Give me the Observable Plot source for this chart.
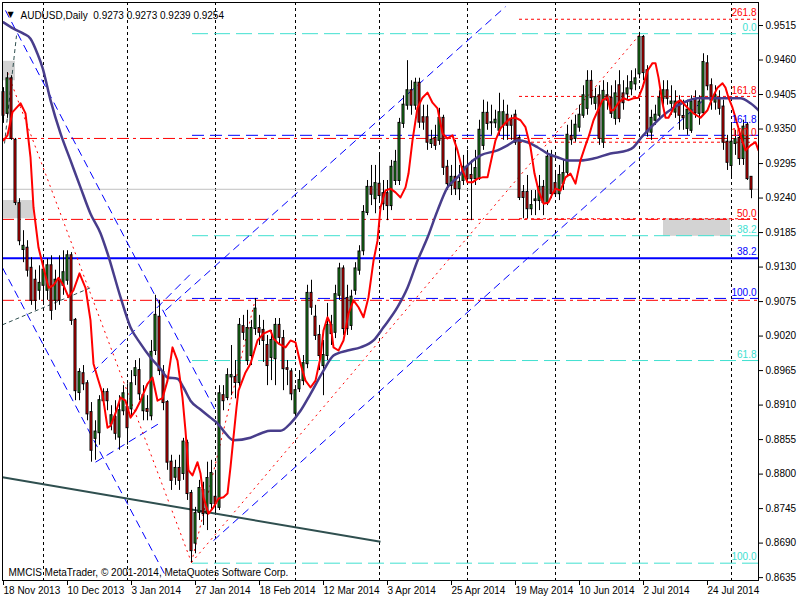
<!DOCTYPE html>
<html><head><meta charset="utf-8">
<script src="https://cdn.jsdelivr.net/npm/d3@7"></script>
<script src="https://cdn.jsdelivr.net/npm/@observablehq/plot@0.6"></script>
<style>
html,body{margin:0;padding:0;background:#fff;}
#chart{width:800px;height:600px;overflow:hidden;}
</style></head><body><div id="chart"></div>
<script>
// ---------- DATA ----------
const open = [.9408,.9375,.9430,.9332,.9231,.9158,.9160,.9128,.9109,.9093,.9101,.9093,.9132,.9077,.9109,.9101,.9109,.9148,.9045,.8930,
.8960,.8944,.8898,.8857,.8866,.8917,.8930,.8880,.8890,.8859,.8901,.8906,.8904,.8957,.8965,.8901,.8903,.8893,.8997,.9050,
.8962,.8914,.8819,.8795,.8809,.8801,.8849,.8769,.8690,.8739,.8774,.8737,.8753,.8763,.8747,.8925,.8922,.8955,.8954,.8946,
.9035,.8981,.8989,.9032,.9032,.9029,.9005,.8986,.8984,.9037,.9016,.8968,.8963,.8897,.8936,.8949,.8976,.9088,.9050,.9021,
.8973,.8989,.9037,.9026,.9085,.9127,.9080,.9037,.9093,.9125,.9156,.9217,.9257,.9239,.9262,.9247,.9247,.9228,.9268,.9268,
.9359,.9388,.9411,.9388,.9423,.9368,.9368,.9327,.9335,.9332,.9367,.9289,.9260,.9273,.9255,.9268,.9289,.9276,.9271,.9271,
.9324,.9375,.9360,.9360,.9348,.9356,.9372,.9364,.9372,.9335,.9249,.9249,.9223,.9236,.9236,.9257,.9233,.9305,.9263,.9247,
.9263,.9281,.9338,.9335,.9353,.9372,.9383,.9426,.9391,.9403,.9329,.9403,.9399,.9367,.9419,.9406,.9406,.9414,.9422,.9438,
.9496,.9443,.9345,.9364,.9372,.9399,.9411,.9391,.9377,.9393,.9370,.9351,.9348,.9396,.9375,.9376,.9454,.9419,.9393,.9399,
.9385,.9329,.9292,.9327,.9335,.9303,.9356,.9273];
const high = [.9416,.9440,.9435,.9335,.9239,.9188,.9172,.9145,.9125,.9132,.9140,.9143,.9148,.9125,.9148,.9156,.9156,.9153,.9048,.8968,
.8973,.8949,.8914,.8885,.8925,.8936,.8936,.8909,.8917,.8925,.8941,.8944,.8965,.8981,.8984,.8941,.8925,.9013,.9085,.9077,
.8973,.8917,.8830,.8822,.8830,.8857,.8854,.8774,.8747,.8790,.8787,.8819,.8822,.8806,.8941,.8941,.8968,.9005,.8981,.9048,
.9053,.9061,.9045,.9080,.9053,.9045,.9021,.9029,.9048,.9048,.9029,.8981,.8968,.8941,.8965,.8989,.9101,.9109,.9069,.9037,
.9013,.9072,.9053,.9101,.9136,.9132,.9101,.9093,.9137,.9164,.9228,.9268,.9292,.9292,.9308,.9268,.9268,.9300,.9316,.9367,
.9403,.9459,.9427,.9431,.9431,.9388,.9388,.9348,.9356,.9383,.9372,.9300,.9292,.9332,.9292,.9308,.9316,.9300,.9316,.9364,
.9396,.9393,.9388,.9380,.9407,.9396,.9388,.9372,.9380,.9340,.9260,.9276,.9252,.9252,.9276,.9268,.9316,.9316,.9284,.9292,
.9300,.9356,.9364,.9372,.9388,.9419,.9443,.9443,.9415,.9419,.9427,.9424,.9419,.9427,.9443,.9427,.9435,.9443,.9446,.9504,
.9499,.9451,.9380,.9388,.9411,.9427,.9427,.9419,.9411,.9403,.9396,.9396,.9403,.9411,.9403,.9470,.9467,.9430,.9419,.9411,
.9396,.9340,.9356,.9348,.9348,.9364,.9360,.9273];
const low = [.9359,.9367,.9332,.9228,.9164,.9137,.9114,.9069,.9061,.9077,.9069,.9077,.9045,.9061,.9069,.9085,.9101,.9037,.8917,.8917,
.8933,.8885,.8819,.8822,.8846,.8909,.8901,.8869,.8854,.8838,.8893,.8846,.8893,.8941,.8917,.8885,.8885,.8885,.8989,.8957,
.8901,.8806,.8774,.8782,.8774,.8790,.8758,.8659,.8673,.8726,.8718,.8710,.8742,.8737,.8742,.8901,.8917,.8925,.8920,.8936,
.9013,.8973,.8973,.9021,.9005,.8978,.8941,.8949,.8941,.9005,.8933,.8941,.8917,.8888,.8930,.8941,.8968,.9053,.9013,.8965,
.8925,.8981,.9005,.9016,.9077,.9021,.9021,.9029,.9085,.9117,.9148,.9212,.9228,.9215,.9236,.9220,.9204,.9220,.9260,.9260,
.9351,.9380,.9372,.9380,.9351,.9348,.9316,.9319,.9316,.9324,.9276,.9252,.9244,.9244,.9236,.9260,.9260,.9204,.9260,.9268,
.9316,.9348,.9340,.9351,.9340,.9332,.9332,.9332,.9324,.9236,.9207,.9207,.9212,.9212,.9220,.9212,.9228,.9239,.9244,.9236,
.9252,.9273,.9324,.9329,.9345,.9367,.9372,.9388,.9380,.9324,.9319,.9380,.9367,.9356,.9360,.9380,.9396,.9403,.9411,.9430,
.9427,.9337,.9332,.9356,.9364,.9388,.9388,.9372,.9367,.9348,.9348,.9340,.9343,.9367,.9356,.9372,.9411,.9380,.9380,.9372,
.9316,.9284,.9271,.9308,.9292,.9292,.9268,.9239];
const close = [.9372,.9430,.9335,.9233,.9172,.9163,.9125,.9077,.9077,.9104,.9125,.9132,.9061,.9109,.9077,.9121,.9148,.9045,.8933,.8962,
.8944,.8896,.8838,.8867,.8917,.8930,.8917,.8893,.8865,.8901,.8928,.8874,.8944,.8968,.8928,.8925,.8900,.8994,.9053,.8965,
.8914,.8819,.8790,.8809,.8790,.8851,.8769,.8678,.8737,.8777,.8737,.8793,.8801,.8753,.8928,.8917,.8957,.8957,.8946,.9037,
.9026,.9032,.9032,.9063,.9026,.9013,.8973,.9013,.9037,.9018,.8968,.8967,.8928,.8933,.8949,.8976,.9088,.9066,.9021,.8989,
.8989,.9037,.9024,.9086,.9127,.9032,.9032,.9082,.9127,.9154,.9217,.9257,.9246,.9263,.9244,.9231,.9228,.9289,.9297,.9359,
.9388,.9411,.9388,.9423,.9361,.9361,.9329,.9332,.9324,.9367,.9289,.9263,.9273,.9255,.9265,.9289,.9271,.9271,.9287,.9348,
.9375,.9359,.9360,.9364,.9376,.9376,.9356,.9356,.9329,.9241,.9241,.9223,.9228,.9237,.9257,.9233,.9305,.9247,.9247,.9276,
.9279,.9340,.9333,.9356,.9372,.9403,.9426,.9400,.9400,.9335,.9410,.9396,.9375,.9406,.9367,.9392,.9414,.9424,.9430,.9496,
.9440,.9345,.9367,.9372,.9399,.9411,.9399,.9393,.9393,.9372,.9368,.9380,.9393,.9376,.9393,.9456,.9419,.9396,.9403,.9383,
.9329,.9297,.9329,.9333,.9303,.9353,.9271,.9254];

// fast (red) and slow (slate) moving averages: [bar, price]
const fastMa = [[0,.9332],[1,.9340],[2.25,.9377],[4.25,.9391],[5.5,.9375],[6.75,.9305],[7.5,.9225],[8.75,.9161],[10,.9129],[11.25,.9097],
[12.5,.9101],[13.75,.9113],[15,.9101],[16.25,.9082],[17.5,.9093],[19,.9120],[20.5,.9097],[21.75,.9045],[22.5,.8976],[23.5,.8954],
[24.75,.8928],[26,.8874],[26.75,.8877],[28,.8897],[29.25,.8922],[30.5,.8917],[31.75,.8890],[33,.8901],[34.25,.8917],[36,.8944],
[37.25,.8954],[38.5,.8917],[39.75,.8921],[41,.8949],[42.25,.9002],[43.5,.8981],[44.75,.8922],[45.5,.8869],[46.25,.8806],[47.25,.8798],
[48.5,.8819],[49.25,.8801],[50,.8763],[51.25,.8737],[52.5,.8747],[53.75,.8761],[55,.8763],[56,.8769],[56.75,.8811],[57.5,.8859],
[58.25,.8906],[58.75,.8933],[60.5,.8962],[61.75,.8976],[63.5,.9013],[65,.9024],[66.75,.9029],[67.5,.9016],[68.75,.9008],[70.5,.9002],
[71.75,.9013],[73,.9010],[74.25,.8976],[75.5,.8949],[76.75,.8938],[78,.8949],[79.25,.8986],[80,.9029],[81,.9050],[81.75,.9040],
[82.5,.9002],[83.75,.8997],[85,.9013],[86.25,.9056],[87.5,.9077],[88.75,.9066],[90,.9050],[91.25,.9082],[92.5,.9140],[93.5,.9172],
[94.25,.9225],[95.5,.9252],[96.75,.9255],[98,.9249],[99.25,.9241],[100.5,.9257],[101.25,.9279],[102.25,.9332],[103.5,.9384],[104.75,.9400],
[106,.9408],[107.25,.9392],[108.5,.9383],[109.75,.9343],[111,.9335],[112.25,.9340],[113.5,.9316],[114.75,.9284],[116,.9265],[117.25,.9265],
[118.5,.9271],[119.75,.9273],[121,.9273],[121.75,.9295],[123,.9332],[124.25,.9351],[125.5,.9360],[126.75,.9367],[128,.9368],[129.25,.9364],
[130.5,.9353],[131.75,.9321],[132.75,.9279],[133.75,.9252],[135,.9231],[136.25,.9233],[137.25,.9247],[138,.9255],[139.25,.9252],[140.5,.9273],
[141.75,.9279],[143,.9263],[144.25,.9300],[145.5,.9324],[146.25,.9337],[147.5,.9364],[149.75,.9396],[151,.9400],[151.75,.9380],[152.5,.9380],
[153.75,.9392],[155,.9399],[156.25,.9396],[157.5,.9399],[158.75,.9400],[159.75,.9416],[161,.9443],[162.25,.9455],[163,.9455],[163.75,.9432],
[164.75,.9391],[165.5,.9368],[166.25,.9368],[167.25,.9380],[168,.9391],[169.25,.9396],[171,.9384],[172.5,.9375],[174.25,.9368],[176,.9380],
[177.25,.9400],[178.5,.9416],[179.75,.9423],[180.5,.9416],[181.25,.9400],[182.25,.9384],[183,.9368],[184.25,.9340],[185.5,.9316],[186.75,.9324],
[188,.9329],[188.75,.9316]];
const slowMa = [[0,.9520],[2.5,.9510],[5,.9502],[6.75,.9494],[8.5,.9470],[9.75,.9448],[11.75,.9396],[14.25,.9343],[16.75,.9300],[19.25,.9257],
[21.75,.9215],[24.25,.9184],[26,.9152],[29.25,.9082],[31.75,.9034],[34.25,.9008],[36.75,.8986],[39.25,.8968],[41,.8954],[43.5,.8952],
[45,.8938],[46.75,.8917],[49.25,.8903],[51.75,.8890],[53.5,.8881],[55,.8869],[57.5,.8854],[61.75,.8858],[64.75,.8866],[66.75,.8869],
[69.25,.8869],[71.75,.8881],[74.25,.8901],[76.75,.8928],[80,.8965],[82.5,.8989],[86,.8997],[89.25,.9002],[92.5,.9013],[95,.9034],
[98.5,.9066],[101,.9097],[103.5,.9140],[106,.9177],[108.5,.9220],[111,.9257],[113.5,.9273],[116,.9292],[119.25,.9308],[123.5,.9316],
[126,.9324],[128.5,.9332],[131,.9329],[133.5,.9321],[136,.9311],[138.5,.9305],[141,.9300],[144.25,.9300],[147.5,.9303],[151.75,.9311],
[156,.9316],[157.5,.9321],[159.25,.9335],[161.75,.9352],[164.25,.9368],[167.5,.9384],[170,.9392],[173.5,.9399],[177.5,.9399],[184.25,.9399],
[186.75,.9391],[188.75,.9380]];

// time axis
const labelBars = [0,16,32,48,64,80,96,112,128,144,160,176];
const labelText = ["18 Nov 2013","10 Dec 2013","3 Jan 2014","27 Jan 2014","18 Feb 2014","12 Mar 2014","3 Apr 2014","25 Apr 2014","19 May 2014","10 Jun 2014","2 Jul 2014","24 Jul 2014"];
const monthBars = [10,31,53,73,94,116,138,159,182];
// price axis
const priceTicks = [0.9515,0.9460,0.9405,0.9350,0.9295,0.9240,0.9185,0.9130,0.9075,0.9020,0.8965,0.8910,0.8855,0.8800,0.8745,0.8690,0.8635];
const lastQuote = {open:0.9273, high:0.9273, low:0.9239, close:0.9254};

// drawn objects (bar, price)
const blueTrend = [[0.5,.9539,53,.8901],[-0.25,.9129,40.5,.8638],[40.5,.9061,125.5,.9545],[52.5,.8694,175,.9396],[22.25,.8962,47.25,.9122],[23,.8819,39.25,.8882]];
const redTrend = [[1,.9440,47,.8659],[47,.8659,159.25,.9502],[47,.8659,63,.9080]];
const darkTrend = [[-0.25,.8795,94.25,.8692]];
const darkDashed = [[-0.25,.9038,21.75,.9097],[0.25,.9327,3.25,.9499]];
const greyZones = [[0,3,.9427,.9458],[0,7.5,.9207,.9236],[165,181.75,.9179,.9207]];
const redDashDotLevels = [.9335,.9206,.9077];
const blueSolidLevel = [.9144];
const blueFibLevels = [.9340,.9080];
const redFibLevels = [.9525,.9402,.9329,.9207];
const tealFibLevels = [.9502,.9180,.8981,.8658];
const blueFibStart = 47.25, redFibStart = 129, tealFibStart = 47.25;
const levelLabels = [
  {p:.9525,t:"261.8",c:"red"},{p:.9502,t:"0.0",c:"#40E0D0"},{p:.9402,t:"161.8",c:"red"},
  {p:.9335,t:"100.0",c:"red"},{p:.9206,t:"50.0",c:"red"},
  {p:.9180,t:"38.2",c:"#40E0D0"},{p:.9144,t:"38.2",c:"blue"},{p:.9080,t:"100.0",c:"blue"},
  {p:.8981,t:"61.8",c:"#40E0D0"},{p:.8658,t:"100.0",c:"#40E0D0"}];
const raisedLabels = [{p:.9340,t:"161.8",c:"blue"}];

// ---------- CHART ----------
const candles = open.map((o,i)=>({i, o, h:high[i], l:low[i], c:close[i]}));
const xDom = [-0.25, 188.75];
const fmt4 = d => d.toFixed(4);
const seg = {x1:d=>d[0], y1:d=>d[1], x2:d=>d[2], y2:d=>d[3]};

const chart = Plot.plot({
  width: 800, height: 600,
  marginLeft: 2, marginRight: 42, marginTop: 2, marginBottom: 20,
  style: {fontFamily: "'Liberation Sans', Arial, sans-serif", fontSize: "9px", background: "white", color: "black", overflow: "visible"},
  x: {domain: xDom, axis: null},
  y: {domain: [0.86304, 0.95517], axis: null},
  color: {type: "identity"},
  marks: [
    Plot.rect(greyZones, {x1:d=>d[0], x2:d=>d[1], y1:d=>d[2], y2:d=>d[3], fill:"#D3D3D3"}),
    Plot.ruleX(monthBars, {stroke:"black", strokeDasharray:"3,3"}),
    Plot.ruleY([lastQuote.close], {stroke:"#C0C0C0"}),
    Plot.ruleY(redDashDotLevels, {stroke:"red", strokeDasharray:"12,4,3,4"}),
    Plot.ruleY(blueSolidLevel, {stroke:"blue", strokeWidth:2}),
    Plot.ruleY(blueFibLevels, {x1:()=>blueFibStart, x2:()=>xDom[1], stroke:"blue", strokeDasharray:"12,6"}),
    Plot.ruleY(redFibLevels, {x1:()=>redFibStart, x2:()=>xDom[1], stroke:"red", strokeDasharray:"3,3"}),
    Plot.ruleY(tealFibLevels, {x1:()=>tealFibStart, x2:()=>xDom[1], stroke:"#40E0D0", strokeDasharray:"16,6"}),
    Plot.link(blueTrend, {...seg, stroke:"blue", strokeDasharray:"8,5", clip:true}),
    Plot.link(redTrend, {...seg, stroke:"red", strokeDasharray:"2,4", clip:true}),
    Plot.link(darkDashed, {...seg, stroke:"#2F4F4F", strokeDasharray:"4,3", clip:true}),
    Plot.link(darkTrend, {...seg, stroke:"#2F4F4F", strokeWidth:2, clip:true}),
    Plot.ruleX(candles, {x:"i", y1:"l", y2:"h", stroke:"black"}),
    Plot.rect(candles, {x1:d=>d.i-0.25, x2:d=>d.i+0.25, y1:d=>Math.min(d.o,d.c), y2:d=>Math.max(d.o,d.c),
      insetTop:-0.5, insetBottom:-0.5,
      fill:d=>d.c>=d.o ? "#1E9B1E" : "#FF0000", stroke:"black"}),
    Plot.line(slowMa, {x:d=>d[0], y:d=>d[1], stroke:"#483D8B", strokeWidth:2.5, curve:"monotone-x", clip:true}),
    Plot.line(fastMa, {x:d=>d[0], y:d=>d[1], stroke:"red", strokeWidth:2, clip:true}),
    Plot.text(levelLabels, {y:"p", text:"t", fill:"c", frameAnchor:"right", dx:-2, dy:-6, textAnchor:"end", fontSize:10}),
    Plot.text(raisedLabels, {y:"p", text:"t", fill:"c", frameAnchor:"right", dx:-2, dy:-16, textAnchor:"end", fontSize:10}),
    Plot.frame({stroke:"black"}),
    Plot.axisY({ticks: priceTicks, anchor:"right", tickSize:4, tickPadding:3, tickFormat: fmt4, fontSize:10, label:null}),
    Plot.axisX({ticks: labelBars, anchor:"bottom", tickSize:5, tickPadding:1, textAnchor:"start", dx:0,
      tickFormat: i => labelText[labelBars.indexOf(i)], fontSize:10, label:null}),
    Plot.text([lastQuote.close], {y:d=>d, text:fmt4, frameAnchor:"right", dx:5, dy:-1, textAnchor:"start", fill:"white", fontSize:9.5, ariaLabel:"price-tag"}),
    Plot.text(["\u25BC"], {frameAnchor:"top-left", dx:5, dy:9, fontSize:8, textAnchor:"start", fontFamily:"DejaVu Sans"}),
    Plot.text([`AUDUSD,Daily  ${fmt4(lastQuote.open)} ${fmt4(lastQuote.high)} ${fmt4(lastQuote.low)} ${fmt4(lastQuote.close)}`],
      {frameAnchor:"top-left", dx:18, dy:9, textAnchor:"start", fontSize:10}),
    Plot.text(["MMCIS MetaTrader, \u00A9 2001-2014, MetaQuotes Software Corp."],
      {frameAnchor:"bottom-left", dx:6, dy:-5, textAnchor:"start", fontSize:10})
  ]
});
document.getElementById("chart").appendChild(chart);

// black box behind the current-price tag
const tag = d3.select(chart).select('g[aria-label="price-tag"] text');
if (!tag.empty()) {
  const bb = tag.node().getBBox();
  d3.select(tag.node().parentNode).insert("rect", "text")
    .attr("x", bb.x - 3).attr("y", bb.y).attr("width", 800).attr("height", bb.height)
    .attr("fill", "black");
}
</script></body></html>
